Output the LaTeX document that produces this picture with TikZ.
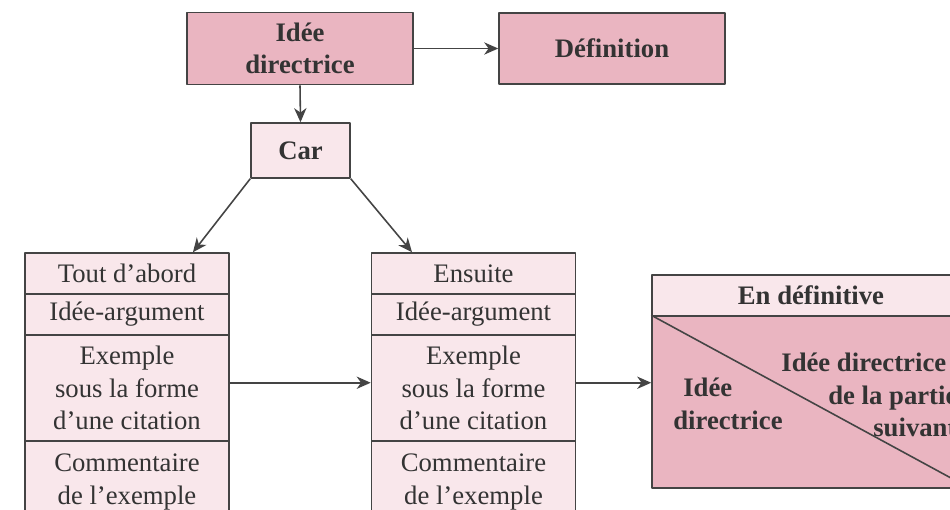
\documentclass[tikz,border=0pt]{standalone}
\usepackage{fontspec}
\setmainfont{Liberation Serif}
\usetikzlibrary{arrows.meta,calc}
\definecolor{rosefonce}{HTML}{EAB5C1}
\definecolor{roseclair}{HTML}{F9E7EB}
\definecolor{trait}{HTML}{444444}
\definecolor{encre}{HTML}{333333}
\begin{document}
\begin{tikzpicture}[x=0.02cm,y=-0.02cm,line join=round,>={Stealth[length=8pt,width=7pt,inset=2.5pt]},
    boite/.style={draw=trait,line width=0.9pt,inner sep=0pt,align=center,text=encre,font=\fontsize{15.2}{18.5}\selectfont},
    gras/.style={font=\fontsize{15.2}{18.5}\selectfont\bfseries},
    fonce/.style={boite,fill=rosefonce,gras},
    clair/.style={boite,fill=roseclair},
    colonne/.style={clair,minimum width=4.08cm},
    texte/.style={inner sep=0pt,align=left,text=encre,gras},
    fleche/.style={->,draw=trait,line width=0.9pt}]
    \useasboundingbox (0,0) rectangle (950,510);
    \clip (0,0) rectangle (950,510);
    \node[fonce,minimum width=4.52cm,minimum height=1.44cm] (idee) at (300,48.5) {Idée\\directrice};
    \node[fonce,minimum width=4.52cm,minimum height=1.42cm] (defn) at (612,48.5) {Définition};
    \node[clair,gras,minimum width=1.98cm,minimum height=1.1cm] (car) at (300.5,150.5) {Car};
    \foreach \x/\n/\t in {127/g/Tout d’abord,473.5/m/Ensuite}{
        \node[colonne,minimum height=0.82cm] (\n1) at (\x,273.5) {\t};
        \node[colonne,minimum height=0.82cm] (\n2) at (\x,314.5) {Idée-argument};
        \node[colonne,minimum height=2.12cm] (\n3) at (\x,388) {Exemple\\sous la forme\\d’une citation};
        \node[colonne,minimum height=1.64cm] (\n4) at (\x,482) {Commentaire\\de l’exemple};
    }
    \node[clair,gras,minimum width=6.36cm,minimum height=0.82cm] (tete) at (811,295.5) {En définitive};
    \node[fonce,minimum width=6.36cm,minimum height=3.44cm] (corps) at (811,402) {};
    \draw[draw=trait,line width=0.9pt] (corps.north west) -- (corps.south east);
    \node[texte,anchor=west] (gauche) at (673,404) {\hspace*{0.2cm}Idée\\directrice};
    \node[texte,anchor=west] (droite) at (781,395) {Idée directrice\\\hspace*{0.94cm}de la partie\\\hspace*{1.84cm}suivante};
    \draw[fleche] (idee.east) -- (defn.west);
    \draw[fleche] (idee.south) -- (car.north);
    \draw[fleche] (car.south west) -- ([xshift=1.32cm]g1.north);
    \draw[fleche] (car.south east) -- ([xshift=-1.23cm]m1.north);
    \draw[fleche] ([yshift=3pt]g3.east) -- ([yshift=3pt]m3.west);
    \draw[fleche] ([yshift=3pt]m3.east) -- ([yshift=3pt]m3.east -| corps.west);
\end{tikzpicture}
\end{document}
